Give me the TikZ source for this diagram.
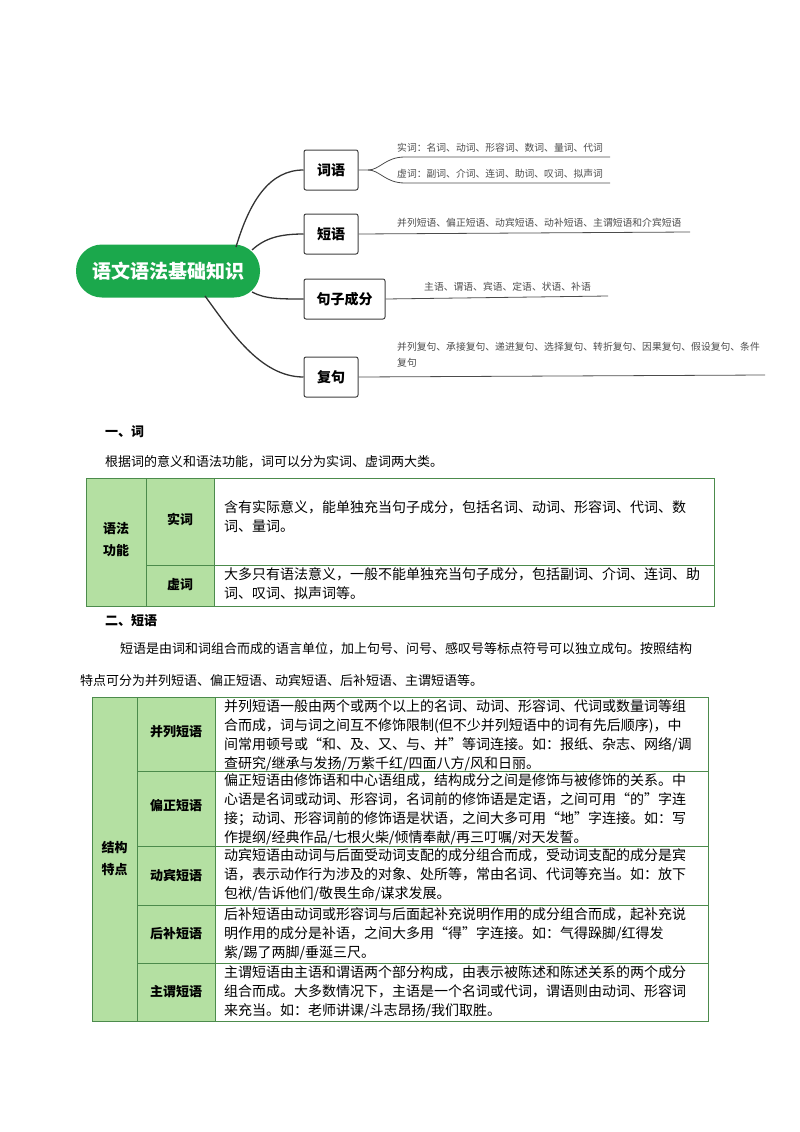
\documentclass[tikz,border=0pt]{standalone}
\usepackage{fontspec}
\setmainfont{Noto Sans CJK SC}
\begin{document}
\begin{tikzpicture}[x=1pt,y=-1pt,
  sub/.style={draw=black!75,line width=1pt,rounded corners=2pt,fill=white,font=\fontsize{14}{16}\selectfont\bfseries,inner sep=0pt,minimum height=40pt},
  leaf/.style={anchor=south west,font=\fontsize{9.8}{11}\selectfont,text=black!70,inner sep=0pt},
  br/.style={draw=black!70,line width=0.8pt},
  cur/.style={draw=black!80,line width=1.3pt},
  cell/.style={anchor=north west,align=left,font=\fontsize{14}{19}\selectfont,inner sep=0pt},
  head/.style={font=\fontsize{13}{22}\selectfont\bfseries,align=center,inner sep=0pt},
  para/.style={anchor=west,font=\fontsize{13}{16}\selectfont,inner sep=0pt},
  tb/.style={draw=green!35!black!70,line width=1pt}]
\useasboundingbox (0,0) rectangle (800,1132);
\definecolor{gfill}{HTML}{B4E0A2}
\definecolor{mgreen}{HTML}{1BA84C}
% mind map
\node[fill=mgreen,rounded corners=26pt,minimum width=184pt,minimum height=53pt,text=white,font=\fontsize{19}{21}\selectfont\bfseries,inner sep=0pt] (c) at (168,271) {语文语法基础知识};
\node[sub,minimum width=54pt] (a) at (331,170) {词语};
\node[sub,minimum width=54pt] (b) at (331,234) {短语};
\node[sub,minimum width=81pt] (d) at (344.5,299) {句子成分};
\node[sub,minimum width=54pt] (e) at (331,377) {复句};
\coordinate (c1) at (236,247);
\coordinate (c2) at (205,296);
\draw[cur] (c1) .. controls (250,200) and (270,170) .. (a.west);
\draw[cur] (252,250) .. controls (265,238) and (280,234) .. (b.west);
\draw[cur] (252,292) .. controls (265,299) and (280,299) .. (d.west);
\draw[cur] (c2) .. controls (230,330) and (260,377) .. (e.west);
% leaves
\coordinate (a1) at (405,157); \coordinate (a1e) at (610,157);
\coordinate (a2) at (405,183); \coordinate (a2e) at (610,183);
\draw[br] (a.east) -- (368,170) .. controls (380,170) and (385,157) .. (a1) -- (a1e);
\draw[br] (368,170) .. controls (380,170) and (385,183) .. (a2) -- (a2e);
\node[leaf] at (397,153) {实词：名词、动词、形容词、数词、量词、代词};
\node[leaf] at (397,179) {虚词：副词、介词、连词、助词、叹词、拟声词};
\coordinate (be) at (690,232);
\draw[br] (b.east) -- (be);
\node[leaf] at (397,228) {并列短语、偏正短语、动宾短语、动补短语、主谓短语和介宾短语};
\coordinate (de) at (608,296);
\draw[br] (d.east) -- (de);
\node[leaf] at (424,292) {主语、谓语、宾语、定语、状语、补语};
\coordinate (ee) at (765,375);
\draw[br] (e.east) -- (ee);
\node[leaf,anchor=north west,align=left,font=\fontsize{9.8}{16}\selectfont] at (397,342) {并列复句、承接复句、递进复句、选择复句、转折复句、因果复句、假设复句、条件\\复句};
% section 1
\node[para,font=\fontsize{13}{16}\selectfont\bfseries] at (105,432) {一、词};
\node[para] at (105,462) {根据词的意义和语法功能，词可以分为实词、虚词两大类。};
\fill[gfill] (86,478) rectangle (214,606);
\fill[white] (214,478) rectangle (714,606);
\draw[tb] (86,478) rectangle (714,606);
\draw[tb] (146,478) -- (146,606);
\draw[tb] (214,478) -- (214,606);
\draw[tb] (146,565) -- (714,565);
\node[head] at (116,540) {语法\\功能};
\node[head] at (180,519) {实词};
\node[head] at (180,585) {虚词};
\node[cell] at (224,500) {含有实际意义，能单独充当句子成分，包括名词、动词、形容词、代词、数\\词、量词。};
\node[cell] at (224,567) {大多只有语法意义，一般不能单独充当句子成分，包括副词、介词、连词、助\\词、叹词、拟声词等。};
% section 2
\node[para,font=\fontsize{13}{16}\selectfont\bfseries] at (105,621) {二、短语};
\node[para] at (120,649) {短语是由词和词组合而成的语言单位，加上句号、问号、感叹号等标点符号可以独立成句。按照结构};
\node[para] at (80,681) {特点可分为并列短语、偏正短语、动宾短语、后补短语、主谓短语等。};
\fill[gfill] (92,697) rectangle (215,1021);
\fill[white] (215,697) rectangle (708,1021);
\draw[tb] (92,697) rectangle (708,1021);
\draw[tb] (137,697) -- (137,1021);
\draw[tb] (215,697) -- (215,1021);
\foreach \yy in {771,846,905,963} \draw[tb] (137,\yy) -- (708,\yy);
\node[head] at (114.5,859) {结构\\特点};
\node[head] at (176,732) {并列短语};
\node[head] at (176,806) {偏正短语};
\node[head] at (176,876) {动宾短语};
\node[head] at (176,934) {后补短语};
\node[head] at (176,992) {主谓短语};
\node[cell] at (224,699) {并列短语一般由两个或两个以上的名词、动词、形容词、代词或数量词等组\\合而成，词与词之间互不修饰限制(但不少并列短语中的词有先后顺序)，中\\间常用顿号或“和、及、又、与、并”等词连接。如：报纸、杂志、网络/调\\查研究/继承与发扬/万紫千红/四面八方/风和日丽。};
\node[cell] at (224,773) {偏正短语由修饰语和中心语组成，结构成分之间是修饰与被修饰的关系。中\\心语是名词或动词、形容词，名词前的修饰语是定语，之间可用“的”字连\\接；动词、形容词前的修饰语是状语，之间大多可用“地”字连接。如：写\\作提纲/经典作品/七根火柴/倾情奉献/再三叮嘱/对天发誓。};
\node[cell] at (224,848) {动宾短语由动词与后面受动词支配的成分组合而成，受动词支配的成分是宾\\语，表示动作行为涉及的对象、处所等，常由名词、代词等充当。如：放下\\包袱/告诉他们/敬畏生命/谋求发展。};
\node[cell] at (224,907) {后补短语由动词或形容词与后面起补充说明作用的成分组合而成，起补充说\\明作用的成分是补语，之间大多用“得”字连接。如：气得跺脚/红得发\\紫/踢了两脚/垂涎三尺。};
\node[cell] at (224,965) {主谓短语由主语和谓语两个部分构成，由表示被陈述和陈述关系的两个成分\\组合而成。大多数情况下，主语是一个名词或代词，谓语则由动词、形容词\\来充当。如：老师讲课/斗志昂扬/我们取胜。};
\end{tikzpicture}
\end{document}
